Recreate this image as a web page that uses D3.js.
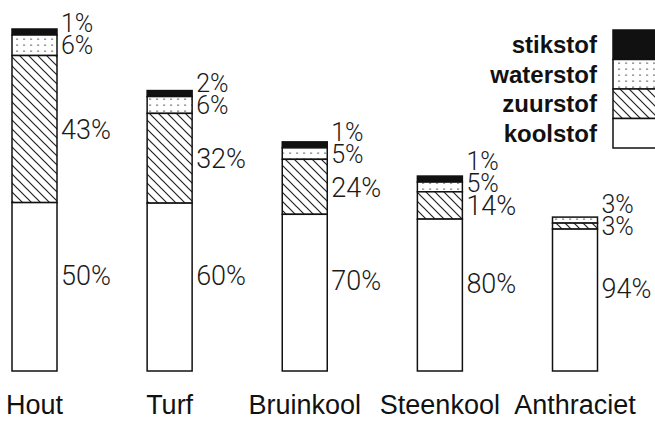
<!DOCTYPE html>
<html lang="nl">
<head>
<meta charset="UTF-8">
<title>Samenstelling brandstoffen</title>
<script src="https://cdn.jsdelivr.net/npm/d3@7"></script>
<style>
    body{
        margin: 0;
        background: #fff;
    }
    .pct{
        font-family: Roboto, "DejaVu Sans", sans-serif;
        font-weight: 300;
        font-size: 27px;
        fill: #1a1a1a;
    }
    .pct.small{
        font-size: 25px;
    }
    .cat{
        font-family: "Liberation Sans", Arial, sans-serif;
        font-size: 27px;
        fill: #111;
    }
    .leg{
        font-family: "Liberation Sans", Arial, sans-serif;
        font-weight: bold;
        font-size: 24px;
        fill: #111;
    }
</style>
</head>
<body>
<div id="chart"></div>
<script>
    // brandstoffen en hun samenstelling (%)
    var categories = ["Hout", "Turf", "Bruinkool", "Steenkool", "Anthraciet"];
    var koolstof  = [50, 60, 70, 80, 94];
    var zuurstof  = [43, 32, 24, 14, 3];
    var waterstof = [6, 6, 5, 5, 3];
    var stikstof  = [1, 2, 1, 1, 0];
    // relatieve hoogte van de staaf (Hout = 100)
    var massa = [100, 82, 67, 57, 45];

    var series = ["koolstof", "zuurstof", "waterstof", "stikstof"];
    var values = {koolstof: koolstof, zuurstof: zuurstof, waterstof: waterstof, stikstof: stikstof};
    var fills = {koolstof: "#fff", zuurstof: "url(#hatch)", waterstof: "url(#dots)", stikstof: "#111"};

    var width = 655, height = 422;
    var barW = 45, minH = 6;

    var svg = d3.select("#chart").append("svg")
        .attr("width", width)
        .attr("height", height);

    var defs = svg.append("defs");
    var hatch = defs.append("pattern")
        .attr("id", "hatch")
        .attr("patternUnits", "userSpaceOnUse")
        .attr("width", 9).attr("height", 9);
    hatch.append("rect").attr("width", 9).attr("height", 9).attr("fill", "#fff");
    hatch.append("path")
        .attr("d", "M0,0L9,9M8,-1L10,1M-1,8L1,10")
        .attr("stroke", "#222")
        .attr("stroke-width", 1.2);

    var dots = defs.append("pattern")
        .attr("id", "dots")
        .attr("patternUnits", "userSpaceOnUse")
        .attr("width", 7).attr("height", 6);
    dots.append("rect").attr("width", 7).attr("height", 6).attr("fill", "#fff");
    dots.append("rect")
        .attr("x", 2).attr("y", 2.5)
        .attr("width", 2.2).attr("height", 1.3)
        .attr("fill", "#888");

    var x = d3.scalePoint()
        .domain(categories)
        .range([34.5, 575]);

    var y = d3.scaleLinear()
        .domain([0, 100])
        .range([371, 29]);

    var bars = categories.map(function(c, i){
        var top = y(massa[i]), bottom = y(0);
        var total = bottom - top;
        var segs = [];
        var cur = top;
        // van boven naar beneden opbouwen, koolstof vult de rest
        ["stikstof", "waterstof", "zuurstof"].forEach(function(s){
            var v = values[s][i];
            if(!v) return;
            var h = Math.max(minH, total * v / 100);
            segs.push({key: s, v: v, y0: cur, y1: cur + h});
            cur += h;
        });
        segs.push({key: "koolstof", v: koolstof[i], y0: cur, y1: bottom});
        return {cat: c, segs: segs};
    });

    var g = svg.append("g");

    bars.forEach(function(b){
        var x0 = x(b.cat) - barW / 2;
        var bg = g.append("g");
        bg.selectAll("rect")
            .data(b.segs)
            .enter()
            .append("rect")
            .attr("x", x0)
            .attr("y", function(d){ return d.y0; })
            .attr("width", barW)
            .attr("height", function(d){ return d.y1 - d.y0; })
            .attr("fill", function(d){ return fills[d.key]; })
            .attr("stroke", "#111")
            .attr("stroke-width", 1.5);

        // labels van onder naar boven, zonder overlap
        var prev = null;
        var labels = b.segs.slice().reverse().map(function(d){
            var mid = (d.y0 + d.y1) / 2;
            if(d.key == "koolstof") mid -= 12;
            if(prev !== null) mid = Math.min(mid, prev - 22);
            prev = mid;
            return {v: d.v, cy: mid};
        });

        bg.selectAll("text")
            .data(labels)
            .enter()
            .append("text")
            .attr("class", function(d){ return d.v < 10 ? "pct small" : "pct"; })
            .attr("x", x0 + barW + 4)
            .attr("y", function(d){ return d.cy; })
            .attr("dy", "0.36em")
            .text(function(d){ return d.v + "%"; });
    });

    svg.append("g").selectAll("text")
        .data(categories)
        .enter()
        .append("text")
        .attr("class", "cat")
        .attr("x", function(d){ return x(d); })
        .attr("y", 414)
        .attr("text-anchor", "middle")
        .text(function(d){ return d; });

    // legenda
    var legend = svg.append("g");
    var legKeys = series.slice().reverse();
    var ly = d3.scaleBand()
        .domain(legKeys)
        .range([30, 148]);

    legend.selectAll("rect")
        .data(legKeys)
        .enter()
        .append("rect")
        .attr("x", 613)
        .attr("y", function(d){ return ly(d); })
        .attr("width", 50)
        .attr("height", ly.bandwidth())
        .attr("fill", function(d){ return fills[d]; })
        .attr("stroke", "#111")
        .attr("stroke-width", 1.5);

    legend.selectAll("text")
        .data(legKeys)
        .enter()
        .append("text")
        .attr("class", "leg")
        .attr("x", 597)
        .attr("y", function(d){ return ly(d) + ly.bandwidth() / 2; })
        .attr("dy", "0.35em")
        .attr("text-anchor", "end")
        .text(function(d){ return d; });
</script>
</body>
</html>
